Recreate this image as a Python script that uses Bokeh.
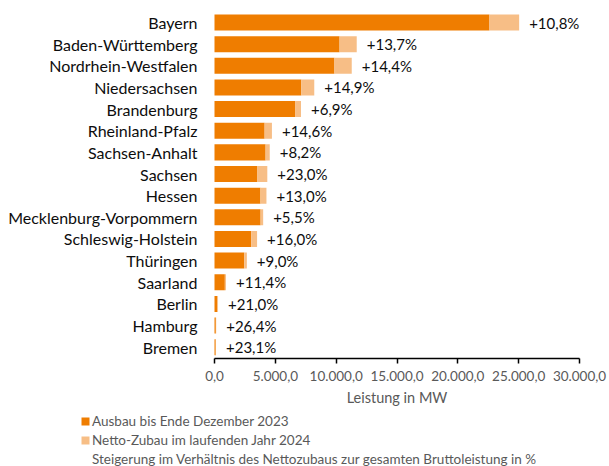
from bokeh.plotting import figure
from bokeh.models import ColumnDataSource, FixedTicker, Legend, LegendItem, Range1d
from bokeh.embed import file_html
from bokeh.resources import INLINE
from bokeh.core.properties import value

states = ["Bayern", "Baden-Württemberg", "Nordrhein-Westfalen", "Niedersachsen",
          "Brandenburg", "Rheinland-Pfalz", "Sachsen-Anhalt", "Sachsen", "Hessen",
          "Mecklenburg-Vorpommern", "Schleswig-Holstein", "Thüringen", "Saarland",
          "Berlin", "Hamburg", "Bremen"]
ausbau_2023 = [22600, 10280, 9860, 7140, 6650, 4120, 4200, 3530, 3780, 3790,
               3020, 2440, 850, 240, 110, 100]
zubau_2024 = [2440, 1410, 1420, 1060, 460, 600, 340, 810, 490, 210,
              480, 220, 97, 50, 29, 23]
steigerung = ["+10,8%", "+13,7%", "+14,4%", "+14,9%", "+6,9%", "+14,6%", "+8,2%",
              "+23,0%", "+13,0%", "+5,5%", "+16,0%", "+9,0%", "+11,4%", "+21,0%",
              "+26,4%", "+23,1%"]
x_ticks = [0, 5000, 10000, 15000, 20000, 25000, 30000]
x_tick_labels = ["0,0", "5.000,0", "10.000,0", "15.000,0", "20.000,0", "25.000,0", "30.000,0"]

n = len(states)
ypos = [n - 1 - i for i in range(n)]          # Bayern on top
total = [a + z for a, z in zip(ausbau_2023, zubau_2024)]
src = ColumnDataSource(dict(y=ypos, state=states, ausbau=ausbau_2023, total=total, label=steigerung))

FONT = "Lato"
DARK = "#EF7D00"
LIGHT = "#F7BE86"

W, H = 609, 466
# pixel geometry of the plotting area (axis at x=0 -> 214px, 30000 -> 579px)
px_per_mw = (579 - 214) / 30000.0
px_per_cat = (346.7 - 22.0) / (n - 1)
x0 = -214 / px_per_mw
x1 = 30000 + (W - 579) / px_per_mw
y1 = (n - 1) + 22.0 / px_per_cat
y0 = -(H - 346.7) / px_per_cat

p = figure(width=W, height=H,
           x_range=Range1d(x0, x1), y_range=Range1d(y0, y1),
           output_backend="svg", toolbar_location=None, min_border=0)

r1 = p.hbar(y="y", left=0, right="ausbau", height=0.74, fill_color=DARK, line_color=None, source=src)
r2 = p.hbar(y="y", left="ausbau", right="total", height=0.74, fill_color=LIGHT, line_color=None, source=src)
r3 = p.hbar(y="y", left=0, right="total", height=0.74, fill_alpha=0, line_alpha=0, source=src)
p.text(x="total", y="y", text="label", source=src, x_offset=10,
       text_align="left", text_baseline="middle", text_color="#0d0d0d",
       text_font=value(FONT), text_font_size="15px")

p.xgrid.visible = False
p.ygrid.visible = False
p.outline_line_color = None

ya = p.yaxis[0]
ya.fixed_location = 0
ya.ticker = FixedTicker(ticks=ypos)
ya.major_label_overrides = {y: s for y, s in zip(ypos, states)}
ya.axis_line_color = None
ya.major_tick_line_color = None
ya.minor_tick_line_color = None
ya.major_tick_out = 0
ya.major_tick_in = 0
ya.major_label_standoff = 17
ya.major_label_text_font = FONT
ya.major_label_text_font_size = "16px"
ya.major_label_text_color = "#0d0d0d"

xa = p.xaxis[0]
xa.fixed_location = -0.5
xa.bounds = (x_ticks[0], x_ticks[-1])
xa.ticker = FixedTicker(ticks=x_ticks)
xa.major_label_overrides = {t: l for t, l in zip(x_ticks, x_tick_labels)}
xa.axis_line_color = "#000000"
xa.axis_line_width = 1.5
xa.major_tick_line_color = "#000000"
xa.major_tick_line_width = 1.5
xa.major_tick_out = 5
xa.major_tick_in = 0
xa.minor_tick_line_color = None
xa.major_label_standoff = 8
xa.major_label_text_font = FONT
xa.major_label_text_font_size = "13.5px"
xa.major_label_text_color = "#595959"
xa.axis_label = "Leistung in MW"
xa.axis_label_text_font = FONT
xa.axis_label_text_font_size = "14.5px"
xa.axis_label_text_font_style = "normal"
xa.axis_label_text_color = "#595959"
xa.axis_label_standoff = 4

legend = Legend(items=[
    LegendItem(label="Ausbau bis Ende Dezember 2023", renderers=[r1]),
    LegendItem(label="Netto-Zubau im laufenden Jahr 2024", renderers=[r2]),
    LegendItem(label="Steigerung im Verhältnis des Nettozubaus zur gesamten Bruttoleistung in %", renderers=[r3]),
], location=(80, -1.5))
legend.padding = 0
legend.margin = 0
legend.spacing = 2
legend.border_line_color = None
legend.background_fill_alpha = 0
legend.glyph_width = 10
legend.glyph_height = 10
legend.label_height = 17
legend.label_standoff = 2
legend.label_text_font = FONT
legend.label_text_font_size = "13.5px"
legend.label_text_color = "#595959"
p.add_layout(legend)

open("out.html", "w").write(file_html(p, INLINE))
